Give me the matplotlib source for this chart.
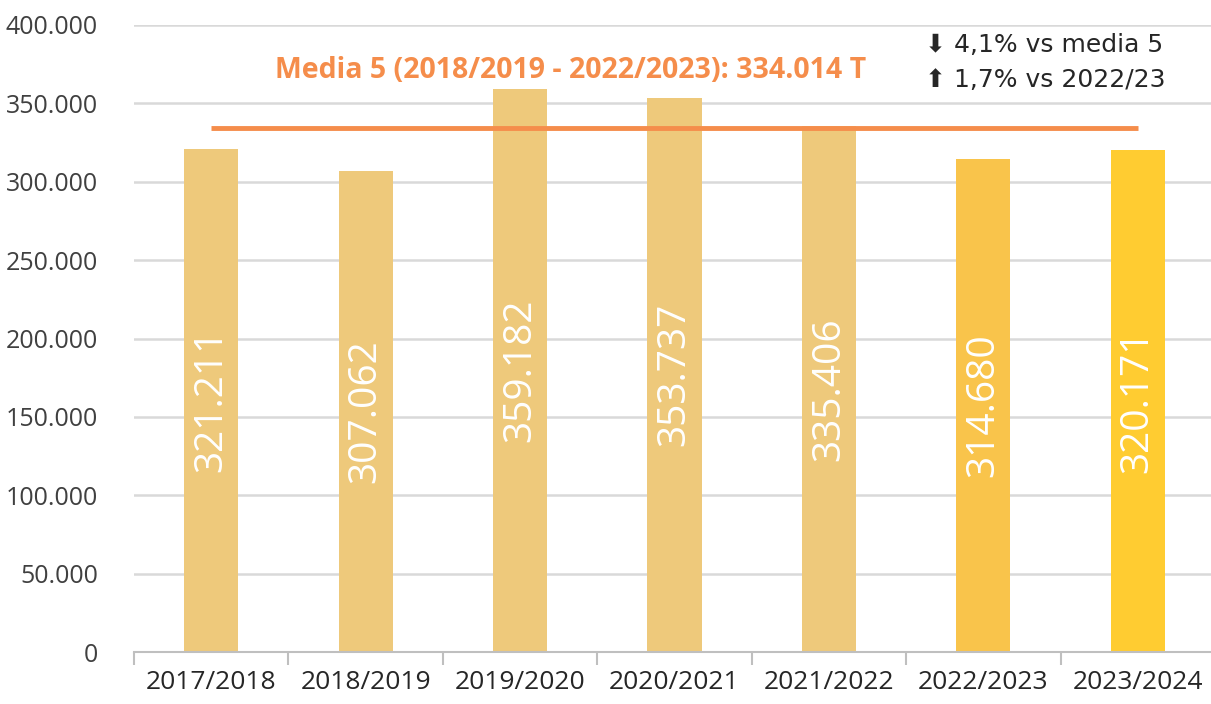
import matplotlib
matplotlib.use("Agg")
import matplotlib.pyplot as plt
from matplotlib.ticker import FixedLocator, FuncFormatter

seasons = ["2017/2018", "2018/2019", "2019/2020", "2020/2021",
           "2021/2022", "2022/2023", "2023/2024"]
values = [321211, 307062, 359182, 353737, 335406, 314680, 320171]
labels = ["321.211", "307.062", "359.182", "353.737", "335.406", "314.680", "320.171"]
colors = ["#EEC97B"] * 5 + ["#F9C44B", "#FFCC31"]
media5 = 334014
title_txt = "Media 5 (2018/2019 - 2022/2023): 334.014 T"
note1 = "4,1% vs media 5"
note2 = "1,7% vs 2022/23"

plt.rcParams["font.family"] = ["Open Sans", "DejaVu Sans"]

fig = plt.figure(figsize=(12.11, 7.04), dpi=100)
ax = fig.add_axes([134 / 1211, 1 - 652 / 704, (1215 - 134) / 1211, (652 - 25) / 704])

x = list(range(len(seasons)))
ax.bar(x, values, width=0.35, color=colors, zorder=2)

for xi, v, lab in zip(x, values, labels):
    ax.text(xi, v / 2, lab, rotation=90, ha="center", va="center",
            color="white", fontsize=28, zorder=3)

ax.plot([x[0], x[-1]], [media5, media5], color="#F58D4B", lw=3.5,
        solid_capstyle="butt", zorder=4)

ax.set_xlim(-0.5, len(seasons) - 0.5)
ax.set_ylim(0, 400000)
ax.set_yticks(range(0, 400001, 50000))
ax.yaxis.set_major_formatter(FuncFormatter(
    lambda v, p: "0" if v == 0 else "{:,.0f}".format(v).replace(",", ".")))
ax.grid(axis="y", color="#D9D9D9", lw=1.8, zorder=0)
ax.set_axisbelow(True)

ax.set_xticks(x)
ax.set_xticklabels(seasons)
ax.xaxis.set_minor_locator(FixedLocator([i - 0.5 for i in range(len(seasons) + 1)]))
ax.tick_params(axis="x", which="major", length=0, pad=13, labelsize=19, labelcolor="#262626")
ax.tick_params(axis="x", which="minor", length=9, width=1.5, color="#BFBFBF")
ax.tick_params(axis="y", length=0, pad=26, labelsize=18, labelcolor="#404040")

for s in ["left", "right", "top"]:
    ax.spines[s].set_visible(False)
ax.spines["bottom"].set_color("#BFBFBF")
ax.spines["bottom"].set_linewidth(1.5)

fig.text(571 / 1211, 1 - 70 / 704, title_txt, ha="center", va="center",
         color="#F58D4B", fontsize=20.5, fontweight="bold")

fig.text(925 / 1211, 1 - 45 / 704, "\u2b07 " + note1, ha="left", va="center",
         color="#262626", fontsize=18, family=["DejaVu Sans"])
fig.text(925 / 1211, 1 - 80 / 704, "\u2b06 " + note2, ha="left", va="center",
         color="#262626", fontsize=18, family=["DejaVu Sans"])

fig.savefig("out.png", dpi=100)
